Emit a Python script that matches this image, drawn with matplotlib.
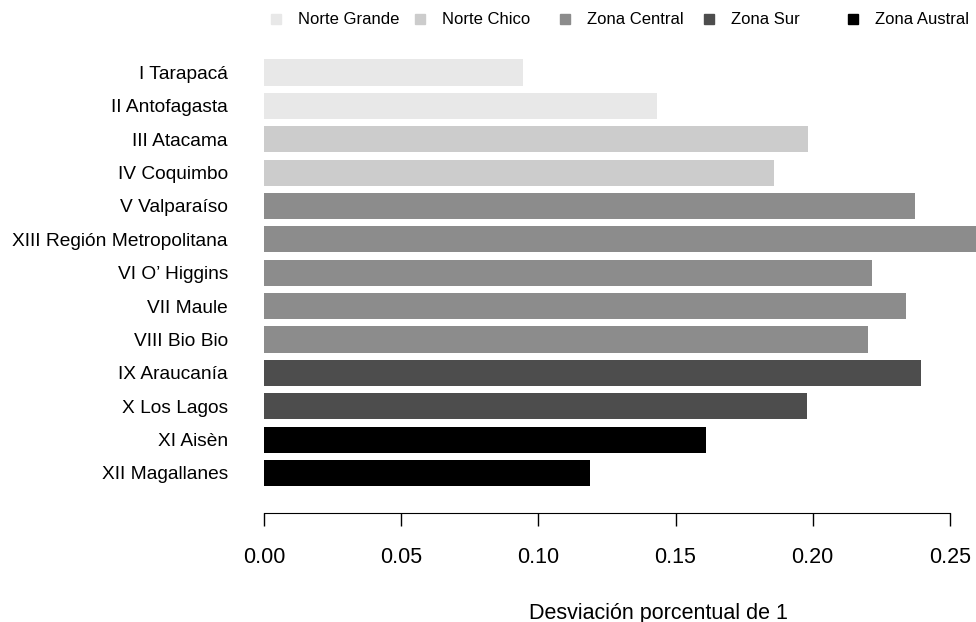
import matplotlib
matplotlib.use('agg')
from matplotlib import pyplot as plt
from matplotlib.lines import Line2D

plt.rcParams['font.family'] = ['Liberation Sans', 'DejaVu Sans']

regiones = ['I Tarapacá', 'II Antofagasta', 'III Atacama', 'IV Coquimbo',
            'V Valparaíso', 'XIII Región Metropolitana', "VI O’ Higgins",
            'VII Maule', 'VIII Bio Bio', 'IX Araucanía', 'X Los Lagos',
            'XI Aisèn', 'XII Magallanes']
desviacion = [0.0944, 0.1432, 0.1983, 0.1859, 0.2372, 0.265, 0.2216,
              0.2340, 0.2201, 0.2394, 0.1979, 0.1612, 0.1188]
zona_idx = [0, 0, 1, 1, 2, 2, 2, 2, 2, 3, 3, 4, 4]
zonas = ['Norte Grande', 'Norte Chico', 'Zona Central', 'Zona Sur', 'Zona Austral']
colores = ['#E8E8E8', '#CCCCCC', '#8C8C8C', '#4D4D4D', '#000000']
xticks = [0.00, 0.05, 0.10, 0.15, 0.20, 0.25]

W, H = 976, 622
fig = plt.figure(figsize=(W / 100, H / 100), dpi=100)
# axes spans from x=264px to right edge, y 50px..500px
ax = fig.add_axes([264 / W, 1 - 500 / H, 1 - 264 / W, 450 / H])

n = len(regiones)
ypos = [n - 1 - i for i in range(n)]
ax.barh(ypos, desviacion, height=0.78, color=[colores[z] for z in zona_idx],
        edgecolor='none')

ax.set_xlim(0, 0.2595)
ax.set_ylim(-0.809, 12.674)

ax.set_yticks(ypos)
ax.set_yticklabels(regiones)
ax.tick_params(axis='y', length=0, pad=26, labelsize=13.8)

ax.set_xticks(xticks)
ax.set_xticklabels(['%.2f' % t for t in xticks])
ax.tick_params(axis='x', length=9.4, width=1, pad=15.5, labelsize=15.5,
               colors='black')

for s in ['top', 'right', 'left']:
    ax.spines[s].set_visible(False)
ax.spines['bottom'].set_position(('outward', 9))
ax.spines['bottom'].set_bounds(0, 0.25)

fig.text(658 / W, 1 - 613 / H, 'Desviación porcentual de 1', fontsize=15.5,
         ha='center', va='center')

# legend in a single row across the top
for i, (z, c) in enumerate(zip(zonas, colores)):
    x0 = 276 + i * 144.3
    fig.add_artist(Line2D([x0 / W], [1 - 19 / H], marker='s', markersize=7,
                          color=c, linestyle='none', transform=fig.transFigure))
    fig.text((x0 + 22) / W, 1 - 19 / H, z, fontsize=12, ha='left', va='center')

fig.savefig('out.png', dpi=100)
